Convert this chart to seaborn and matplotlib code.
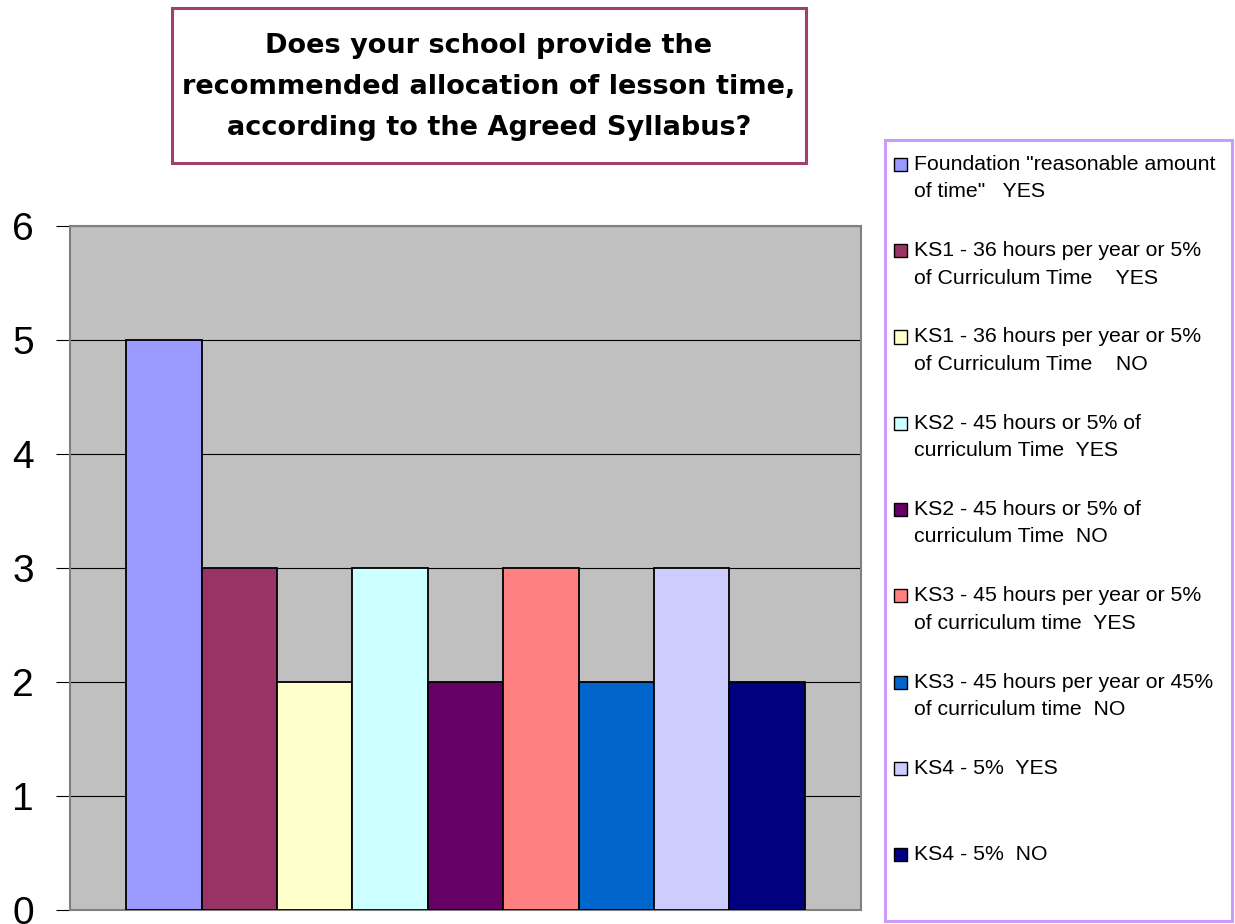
import numpy as np
import pandas as pd
import seaborn as sns
import matplotlib.pyplot as plt
from matplotlib.patches import Rectangle

# --- data -------------------------------------------------------------
series_labels = [
    'Foundation "reasonable amount\nof time"   YES',
    'KS1 - 36 hours per year or 5%\nof Curriculum Time    YES',
    'KS1 - 36 hours per year or 5%\nof Curriculum Time    NO',
    'KS2 - 45 hours or 5% of\ncurriculum Time  YES',
    'KS2 - 45 hours or 5% of\ncurriculum Time  NO',
    'KS3 - 45 hours per year or 5%\nof curriculum time  YES',
    'KS3 - 45 hours per year or 45%\nof curriculum time  NO',
    'KS4 - 5%  YES',
    'KS4 - 5%  NO',
]
responses = [5, 3, 2, 3, 2, 3, 2, 3, 2]
series_colors = ["#9999FF", "#993366", "#FFFFCC", "#CCFFFF", "#660066",
                 "#FF8080", "#0066CC", "#CCCCFF", "#000080"]
y_ticks = [0, 1, 2, 3, 4, 5, 6]
title_lines = [
    "Does your school provide the",
    "recommended allocation of lesson time,",
    "according to the Agreed Syllabus?",
]

# --- figure setup -----------------------------------------------------
sns.set_theme(style="white")
plt.rcParams["font.family"] = ["Liberation Sans", "DejaVu Sans"]

W, H = 1235, 924
fig = plt.figure(figsize=(W / 100, H / 100), dpi=100)
fig.patch.set_facecolor("white")


def fx(px):
    return px / W


def fy(py):
    return 1 - py / H


ax = fig.add_axes([fx(70), fy(910), (861 - 70) / W, (910 - 226) / H])
ax.set_facecolor("#C0C0C0")

names = [s.replace("\n", " ") for s in series_labels]
df = pd.DataFrame({"group": ["all"] * len(names), "series": names, "count": responses})

sns.barplot(data=df, x="group", y="count", hue="series", hue_order=names,
            palette=series_colors, saturation=1, width=0.858,
            edgecolor="black", linewidth=1.3, legend=False, ax=ax, zorder=3)

ax.set_xlim(-0.5, 0.5)
ax.set_ylim(0, 6)
ax.set_yticks(y_ticks)
ax.set_yticklabels([str(t) for t in y_ticks])
ax.set_xticks([])
ax.set_xlabel("")
ax.set_ylabel("")
ax.set_axisbelow(True)
ax.yaxis.grid(True, color="black", linewidth=0.8)
ax.xaxis.grid(False)
ax.tick_params(axis="y", left=True, length=10, width=0.8, color="black",
               pad=16, labelsize=28, labelcolor="black")
for side in ["left", "right", "top", "bottom"]:
    ax.spines[side].set_visible(True)
    ax.spines[side].set_color("#808080")
    ax.spines[side].set_linewidth(1.5)

# --- title box --------------------------------------------------------
fig.patches.append(Rectangle((fx(172), fy(163)), (806 - 172) / W, (163 - 8) / H,
                             transform=fig.transFigure, facecolor="white",
                             edgecolor="#A0406E", linewidth=2.2))
for i, (line, base) in enumerate(zip(title_lines, [53, 94, 135])):
    fig.text(fx(489), fy(base), line, ha="center", va="baseline",
             fontsize=19.5, fontweight="bold", color="black",
             family=["DejaVu Sans"])

# --- legend box -------------------------------------------------------
fig.patches.append(Rectangle((fx(885), fy(921)), (1232 - 885) / W, (921 - 140) / H,
                             transform=fig.transFigure, facecolor="white",
                             edgecolor="#CC99FF", linewidth=2.2))
sq = 13
for i, (label, color) in enumerate(zip(series_labels, series_colors)):
    base = 170 + 86.25 * i
    fig.patches.append(Rectangle((fx(900 - sq / 2), fy(base - 5.5 + sq / 2)), sq / W, sq / H,
                                 transform=fig.transFigure, facecolor=color,
                                 edgecolor="black", linewidth=1.0))
    for j, part in enumerate(label.split("\n")):
        fig.text(fx(914), fy(base + 27.3 * j), part, ha="left", va="baseline",
                 fontsize=15.3, color="black")

fig.savefig("out.png", dpi=100)
